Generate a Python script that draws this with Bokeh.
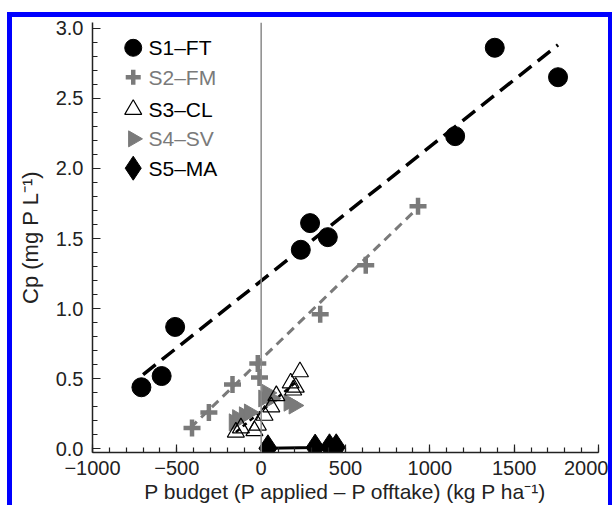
import numpy as np
from bokeh.plotting import figure
from bokeh.models import FixedTicker, PrintfTickFormatter, Span, Range1d
from bokeh.core.properties import value
from bokeh.embed import file_html
from bokeh.resources import INLINE

# ---- data ----
s1_x = [-710, -590, -510, 235, 290, 395, 1150, 1385, 1760]
s1_y = [0.44, 0.52, 0.87, 1.42, 1.61, 1.51, 2.23, 2.86, 2.65]
s1_fit_x = [-700, 1760]
s1_fit_y = [0.53, 2.88]

s2_x = [-410, -310, -170, -20, -10, 350, 620, 930]
s2_y = [0.15, 0.26, 0.46, 0.61, 0.51, 0.96, 1.31, 1.73]
s2_fit_x = [-420, 930]
s2_fit_y = [0.15, 1.72]

s3_x = [-150, -120, -40, -20, 20, 60, 90, 175, 190, 205, 230]
s3_y = [0.12, 0.15, 0.13, 0.17, 0.24, 0.30, 0.38, 0.47, 0.42, 0.44, 0.55]
s3_fit_x = [-150, 200]
s3_fit_y = [0.12, 0.47]

s4_x = [-160, -140, -100, -70, 15, 35, 60, 165, 195]
s4_y = [0.19, 0.22, 0.24, 0.26, 0.36, 0.40, 0.36, 0.33, 0.31]

s5_x = [40, 320, 405, 445]
s5_y = [0.005, 0.01, 0.012, 0.012]

x_ticks = [-1000, -500, 0, 500, 1000, 1500, 2000]
y_ticks = [0.0, 0.5, 1.0, 1.5, 2.0, 2.5, 3.0]
x_minor = list(range(-1000, 2001, 100))
y_minor = [round(0.1 * i, 1) for i in range(0, 31)]

labels = ["S1\u2013FT", "S2\u2013FM", "S3\u2013CL", "S4\u2013SV", "S5\u2013MA"]

FONT = "Liberation Sans"
GRAY = "#7a7a7a"
BLUE = "#0000ff"

# ---- layout ----
W, H = 596, 488
BL, BR, BT, BB = 80, 19, 5, 58
X0, X1 = -1000, 2000
Y0, Y1 = -0.025, 3.04
FW, FH = W - BL - BR, H - BT - BB


def fx(px):  # horizontal pixel offset inside frame -> data x
    return X0 + px / FW * (X1 - X0)


def fy(py):  # vertical pixel offset from frame top -> data y
    return Y1 - py / FH * (Y1 - Y0)


p = figure(width=W, height=H, output_backend="svg", toolbar_location=None,
           x_range=Range1d(X0, X1), y_range=Range1d(Y0, Y1),
           min_border_left=BL, min_border_right=BR, min_border_top=BT, min_border_bottom=BB)
p.styles = {"box-sizing": "content-box", "padding": "0px",
            "margin-left": "7px", "margin-top": "12px",
            "border-left": f"5px solid {BLUE}", "border-top": f"5px solid {BLUE}",
            "border-right": f"4px solid {BLUE}", "border-bottom": "0px none white"}
p.outline_line_color = None
p.xgrid.visible = False
p.ygrid.visible = False
p.background_fill_color = "white"
p.border_fill_color = "white"

# zero line
p.add_layout(Span(location=0, dimension="height", line_color="#8a8a8a", line_width=1.5))

# fits
p.line(s1_fit_x, s1_fit_y, line_color="black", line_width=3.5, line_dash="16 8")
p.line(s2_fit_x, s2_fit_y, line_color=GRAY, line_width=3, line_dash="9 6")
p.line(s3_fit_x, s3_fit_y, line_color="black", line_width=2.5, line_dash="5 4")
p.line(s5_x, s5_y, line_color="black", line_width=3)

# markers
p.scatter(s1_x, s1_y, marker="circle", size=19, fill_color="black", line_color="black")
p.scatter(s2_x, s2_y, marker="cross", size=17, line_color=GRAY, line_width=4.5)
p.scatter(s4_x, s4_y, marker="triangle", size=17, angle=-np.pi / 2,
          fill_color=GRAY, line_color=GRAY)
p.scatter(s3_x, s3_y, marker="triangle", size=17, fill_alpha=0,
          line_color="black", line_width=1.2)
p.scatter(s5_x, s5_y, marker="diamond", size=27, fill_color="black", line_color="black")

# legend (drawn by hand so each entry keeps its own marker and text colour)
rows_px = [25, 54, 86, 115, 144]
lx = fx(40)
ly = [fy(r) for r in rows_px]
p.scatter([lx], [ly[0]], marker="circle", size=17, fill_color="black", line_color="black")
p.scatter([lx], [ly[1]], marker="cross", size=15, line_color=GRAY, line_width=4.5)
p.scatter([lx], [ly[2]], marker="triangle", size=17, fill_alpha=0, line_color="black", line_width=1.2)
p.scatter([lx], [ly[3]], marker="triangle", size=16, angle=-np.pi / 2, fill_color=GRAY, line_color=GRAY)
p.scatter([lx], [ly[4]], marker="diamond", size=24, fill_color="black", line_color="black")
p.text(x=[fx(55)] * 5, y=ly, text=labels,
       text_color=["black", GRAY, "black", GRAY, "black"],
       text_font=value(FONT), text_font_size="21px",
       text_baseline="middle", text_align="left")

# axes
for ax in (p.xaxis[0], p.yaxis[0]):
    ax.axis_line_color = "#222222"
    ax.axis_line_width = 1.5
    ax.major_tick_line_color = "#222222"
    ax.minor_tick_line_color = "#222222"
    ax.major_tick_line_width = 1.2
    ax.minor_tick_line_width = 1.2
    ax.major_tick_in = 8
    ax.major_tick_out = 0
    ax.minor_tick_in = 5
    ax.minor_tick_out = 0
    ax.major_label_text_font = FONT
    ax.major_label_text_font_size = "20px"
    ax.major_label_text_color = "#222222"
    ax.axis_label_text_font = FONT
    ax.axis_label_text_font_style = "normal"
    ax.axis_label_text_color = "#222222"

p.xaxis.axis_label_text_font_size = "21px"
p.yaxis.axis_label_text_font_size = "22px"
p.xaxis.ticker = FixedTicker(ticks=x_ticks, minor_ticks=x_minor)
p.yaxis.ticker = FixedTicker(ticks=y_ticks, minor_ticks=y_minor)
p.yaxis.formatter = PrintfTickFormatter(format="%.1f")
p.xaxis.major_label_overrides = {-1000: "\u22121000", -500: "\u2212500"}
p.xaxis.major_label_standoff = 8
p.yaxis.major_label_standoff = 9
p.xaxis.axis_label = "P budget (P applied \u2013 P offtake) (kg P ha\u207b\u00b9)"
p.yaxis.axis_label = "Cp (mg P L\u207b\u00b9)"
p.xaxis.axis_label_standoff = 2
p.yaxis.axis_label_standoff = 10

open("out.html", "w").write(file_html(p, INLINE))
